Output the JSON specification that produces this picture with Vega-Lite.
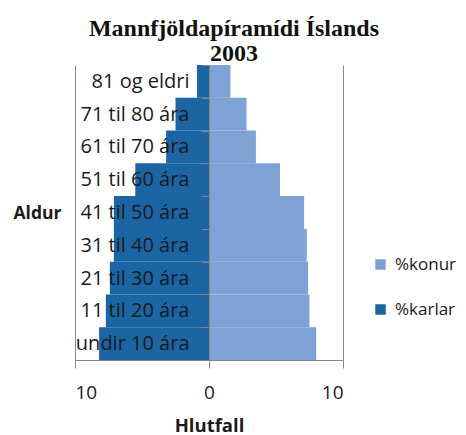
{
  "$schema": "https://vega.github.io/schema/vega-lite/v6.json",
  "width": 268,
  "height": 295,
  "autosize": {"type": "none"},
  "padding": {"left": 75, "top": 65, "right": 123, "bottom": 75},
  "background": "white",
  "title": {
    "text": ["Mannfjöldapíramídi  Íslands", "2003"],
    "font": "Liberation Serif",
    "fontSize": 24,
    "fontWeight": "bold",
    "color": "#111111",
    "anchor": "middle",
    "dx": 25,
    "offset": -11,
    "lineHeight": 25
  },
  "config": {"view": {"stroke": null}},
  "data": {
    "values": [
      {"aldur": "81 og eldri", "kyn": "%karlar", "hlutfall": -0.9},
      {"aldur": "81 og eldri", "kyn": "%konur", "hlutfall": 1.6},
      {"aldur": "71 til 80 ára", "kyn": "%karlar", "hlutfall": -2.5},
      {"aldur": "71 til 80 ára", "kyn": "%konur", "hlutfall": 2.8},
      {"aldur": "61 til 70 ára", "kyn": "%karlar", "hlutfall": -3.2},
      {"aldur": "61 til 70 ára", "kyn": "%konur", "hlutfall": 3.5},
      {"aldur": "51 til 60 ára", "kyn": "%karlar", "hlutfall": -5.5},
      {"aldur": "51 til 60 ára", "kyn": "%konur", "hlutfall": 5.3},
      {"aldur": "41 til 50 ára", "kyn": "%karlar", "hlutfall": -7.1},
      {"aldur": "41 til 50 ára", "kyn": "%konur", "hlutfall": 7.1},
      {"aldur": "31 til 40 ára", "kyn": "%karlar", "hlutfall": -7.1},
      {"aldur": "31 til 40 ára", "kyn": "%konur", "hlutfall": 7.3},
      {"aldur": "21 til 30 ára", "kyn": "%karlar", "hlutfall": -7.4},
      {"aldur": "21 til 30 ára", "kyn": "%konur", "hlutfall": 7.4},
      {"aldur": "11 til 20 ára", "kyn": "%karlar", "hlutfall": -7.7},
      {"aldur": "11 til 20 ára", "kyn": "%konur", "hlutfall": 7.5},
      {"aldur": "undir 10 ára", "kyn": "%karlar", "hlutfall": -8.2},
      {"aldur": "undir 10 ára", "kyn": "%konur", "hlutfall": 8.0}
    ]
  },
  "mark": {"type": "bar"},
  "encoding": {
    "y": {
      "field": "aldur",
      "type": "nominal",
      "sort": ["81 og eldri", "71 til 80 ára", "61 til 70 ára", "51 til 60 ára", "41 til 50 ára", "31 til 40 ára", "21 til 30 ára", "11 til 20 ára", "undir 10 ára"],
      "scale": {"paddingInner": 0, "paddingOuter": 0},
      "axis": {
        "title": "Aldur",
        "offset": -134,
        "zindex": 1,
        "tickBand": "extent",
        "tickSize": 8,
        "tickColor": "#868686",
        "domainColor": "#868686",
        "labelPadding": 12,
        "labelFont": "Open Sans",
        "labelFontSize": 20,
        "labelColor": "#1a1a1a",
        "labelBaseline": "middle",
        "titleFont": "Open Sans",
        "titleFontSize": 17.5,
        "titleFontWeight": "bold",
        "titleColor": "#1a1a1a",
        "titleAngle": 0,
        "titleX": -172,
        "titleY": 148,
        "titleAlign": "center",
        "titleBaseline": "middle"
      }
    },
    "x": {
      "field": "hlutfall",
      "type": "quantitative",
      "stack": null,
      "scale": {"domain": [-10, 10], "nice": false},
      "axis": {
        "values": [-10, 0, 10],
        "labelExpr": "abs(datum.value)",
        "title": "Hlutfall",
        "grid": true,
        "gridColor": "#868686",
        "gridOpacity": 1,
        "domainColor": "#868686",
        "tickColor": "#868686",
        "tickSize": 8,
        "labelPadding": 15,
        "labelFont": "Open Sans",
        "labelFontSize": 19,
        "labelColor": "#1a1a1a",
        "titleFont": "Open Sans",
        "titleFontSize": 18.5,
        "titleFontWeight": "bold",
        "titleColor": "#1a1a1a",
        "titlePadding": 14
      }
    },
    "color": {
      "field": "kyn",
      "type": "nominal",
      "scale": {"domain": ["%konur", "%karlar"], "range": ["#7ea2d3", "#1c65a5"]},
      "legend": {
        "title": null,
        "orient": "none",
        "legendX": 297,
        "legendY": 191,
        "symbolType": "square",
        "symbolSize": 110,
        "symbolStrokeWidth": 0,
        "labelFont": "Open Sans",
        "labelFontSize": 17,
        "labelColor": "#1a1a1a",
        "rowPadding": 27,
        "labelOffset": 6
      }
    }
  }
}
